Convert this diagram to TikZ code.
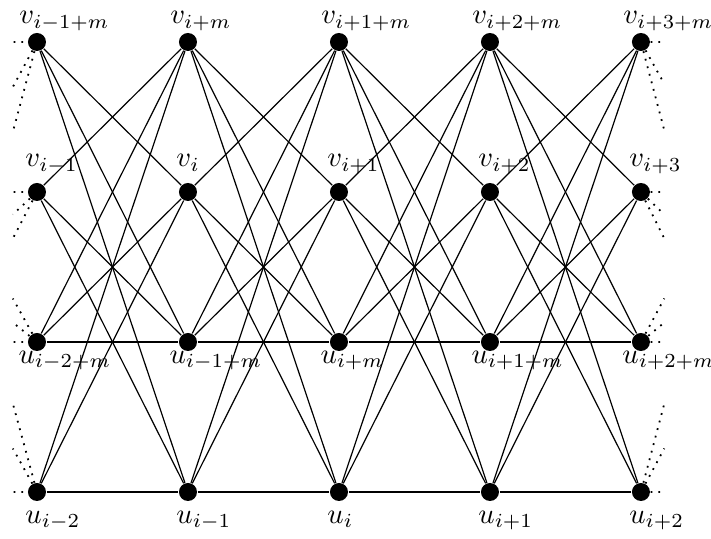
\documentclass[tikz,border=0pt]{standalone}
\begin{document}
\begin{tikzpicture}[x=50.33pt,y=50pt]
  \tikzstyle{vertex}=[circle,fill=black,inner sep=0pt,minimum size=6pt]
  \tikzstyle{edge}=[draw=black, thin]
  \tikzstyle{stub}=[draw=black, semithick, dotted]
  \tikzstyle{lbl}=[anchor=base west, inner sep=0pt, scale=0.95]

  \useasboundingbox (-0.245,-0.313) rectangle (4.464,3.28);

  % top row v_{j+m}
  \node [vertex] (vm0) at (0,3) {};
  \node [vertex] (vm1) at (1,3) {};
  \node [vertex] (vm2) at (2,3) {};
  \node [vertex] (vm3) at (3,3) {};
  \node [vertex] (vm4) at (4,3) {};
  % v_j
  \node [vertex] (v0) at (0,2) {};
  \node [vertex] (v1) at (1,2) {};
  \node [vertex] (v2) at (2,2) {};
  \node [vertex] (v3) at (3,2) {};
  \node [vertex] (v4) at (4,2) {};
  % u_{j+m}
  \node [vertex] (um0) at (0,1) {};
  \node [vertex] (um1) at (1,1) {};
  \node [vertex] (um2) at (2,1) {};
  \node [vertex] (um3) at (3,1) {};
  \node [vertex] (um4) at (4,1) {};
  % u_j
  \node [vertex] (u0) at (0,0) {};
  \node [vertex] (u1) at (1,0) {};
  \node [vertex] (u2) at (2,0) {};
  \node [vertex] (u3) at (3,0) {};
  \node [vertex] (u4) at (4,0) {};

  % labels
  \node [lbl] (lvm0) at (-0.12,3.12) {$v_{i-1+m}$};
  \node [lbl] (lvm1) at (0.88,3.12) {$v_{i+m}$};
  \node [lbl] (lvm2) at (1.88,3.12) {$v_{i+1+m}$};
  \node [lbl] (lvm3) at (2.88,3.12) {$v_{i+2+m}$};
  \node [lbl] (lvm4) at (3.88,3.12) {$v_{i+3+m}$};
  \node [lbl] (lv0) at (-0.08,2.167) {$v_{i-1}$};
  \node [lbl] (lv1) at (0.92,2.167) {$v_{i}$};
  \node [lbl] (lv2) at (1.92,2.167) {$v_{i+1}$};
  \node [lbl] (lv3) at (2.92,2.167) {$v_{i+2}$};
  \node [lbl] (lv4) at (3.92,2.167) {$v_{i+3}$};
  \node [lbl] (lum0) at (-0.126,0.857) {$u_{i-2+m}$};
  \node [lbl] (lum1) at (0.874,0.857) {$u_{i-1+m}$};
  \node [lbl] (lum2) at (1.874,0.857) {$u_{i+m}$};
  \node [lbl] (lum3) at (2.874,0.857) {$u_{i+1+m}$};
  \node [lbl] (lum4) at (3.874,0.857) {$u_{i+2+m}$};
  \node [lbl] (lu0) at (-0.08,-0.207) {$u_{i-2}$};
  \node [lbl] (lu1) at (0.92,-0.207) {$u_{i-1}$};
  \node [lbl] (lu2) at (1.92,-0.207) {$u_{i}$};
  \node [lbl] (lu3) at (2.92,-0.207) {$u_{i+1}$};
  \node [lbl] (lu4) at (3.92,-0.207) {$u_{i+2}$};

  % edges between neighbouring columns
  \foreach \k [count=\n] in {0,...,3} {
    \path[edge] (vm\k) -- (v\n);  \path[edge] (v\k) -- (vm\n);
    \path[edge] (vm\k) -- (um\n); \path[edge] (um\k) -- (vm\n);
    \path[edge] (vm\k) -- (u\n);  \path[edge] (u\k) -- (vm\n);
    \path[edge] (v\k) -- (um\n);  \path[edge] (um\k) -- (v\n);
    \path[edge] (v\k) -- (u\n);   \path[edge] (u\k) -- (v\n);
    \path[edge] (um\k) -- (um\n);
    \path[edge] (u\k) -- (u\n);
  }

  % dotted stubs, left side
  \coordinate (vm0h) at ([shift={(-0.155,0)}]vm0);
  \coordinate (vm0a) at ([shift={(-0.16,-0.30)}]vm0);
  \coordinate (vm0b) at ([shift={(-0.16,-0.60)}]vm0);
  \coordinate (v0h) at ([shift={(-0.155,0)}]v0);
  \coordinate (v0a) at ([shift={(-0.16,-0.15)}]v0);
  \coordinate (v0b) at ([shift={(-0.16,-0.31)}]v0);
  \coordinate (um0h) at ([shift={(-0.155,0)}]um0);
  \coordinate (um0a) at ([shift={(-0.16,0.29)}]um0);
  \coordinate (um0b) at ([shift={(-0.16,0.13)}]um0);
  \coordinate (u0h) at ([shift={(-0.155,0)}]u0);
  \coordinate (u0a) at ([shift={(-0.16,0.59)}]u0);
  \coordinate (u0b) at ([shift={(-0.16,0.29)}]u0);
  \path[stub] (vm0h) -- (vm0) (vm0) -- (vm0a) (vm0) -- (vm0b);
  \path[stub] (v0h) -- (v0) (v0) -- (v0a) (v0) -- (v0b);
  \path[stub] (um0h) -- (um0) (um0) -- (um0a) (um0) -- (um0b);
  \path[stub] (u0h) -- (u0) (u0) -- (u0a) (u0) -- (u0b);

  % dotted stubs, right side
  \coordinate (vm4h) at ([shift={(0.155,0)}]vm4);
  \coordinate (vm4a) at ([shift={(0.155,-0.28)}]vm4);
  \coordinate (vm4b) at ([shift={(0.155,-0.59)}]vm4);
  \coordinate (v4h) at ([shift={(0.155,0)}]v4);
  \coordinate (v4a) at ([shift={(0.155,-0.15)}]v4);
  \coordinate (v4b) at ([shift={(0.155,-0.31)}]v4);
  \coordinate (um4h) at ([shift={(0.155,0)}]um4);
  \coordinate (um4a) at ([shift={(0.155,0.29)}]um4);
  \coordinate (um4b) at ([shift={(0.155,0.13)}]um4);
  \coordinate (u4h) at ([shift={(0.155,0)}]u4);
  \coordinate (u4a) at ([shift={(0.155,0.59)}]u4);
  \coordinate (u4b) at ([shift={(0.155,0.29)}]u4);
  \path[stub] (vm4) -- (vm4h) (vm4) -- (vm4a) (vm4) -- (vm4b);
  \path[stub] (v4) -- (v4h) (v4) -- (v4a) (v4) -- (v4b);
  \path[stub] (um4) -- (um4h) (um4) -- (um4a) (um4) -- (um4b);
  \path[stub] (u4) -- (u4h) (u4) -- (u4a) (u4) -- (u4b);
\end{tikzpicture}
\end{document}
